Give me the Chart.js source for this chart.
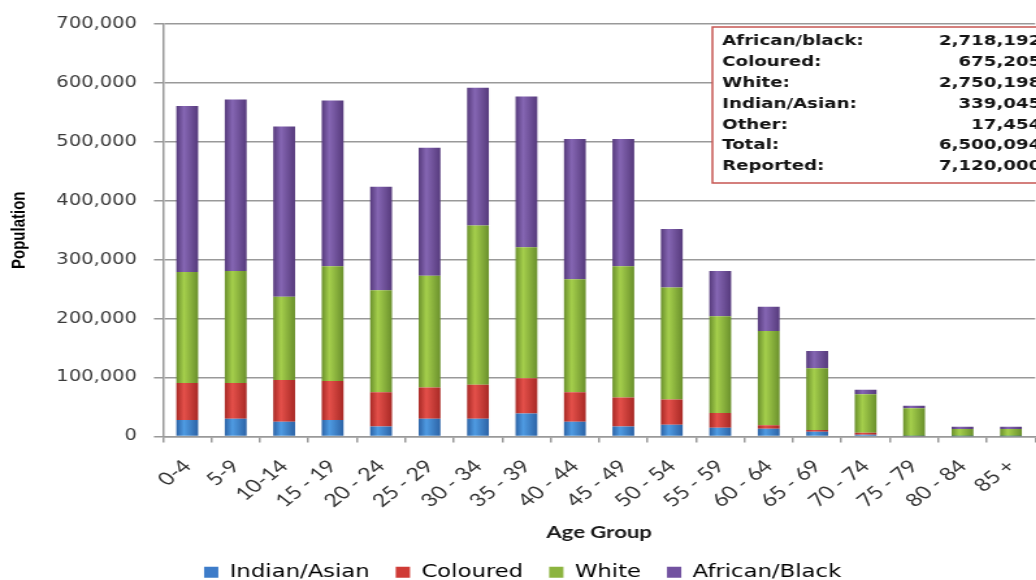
<!DOCTYPE html>
<html>
<head>
<meta charset="utf-8">
<script src="https://cdn.jsdelivr.net/npm/chart.js@4/dist/chart.umd.min.js"></script>
<style>
  html, body { margin: 0; padding: 0; background: #fff; overflow: hidden; }
  /* the source picture is stretched sideways, so the chart is drawn narrow and widened */
  #wrap { width: 806px; height: 580px; transform: scaleX(1.3); transform-origin: 0 0; }
</style>
</head>
<body>
<div id="wrap"><canvas id="popChart" width="806" height="580"></canvas></div>
<script>
const ageGroups = ['0-4', '5-9', '10-14', '15 - 19', '20 - 24', '25 - 29', '30 - 34', '35 - 39', '40 - 44',
  '45 - 49', '50 - 54', '55 - 59', '60 - 64', '65 - 69', '70 - 74', '75 - 79', '80 - 84', '85 +'];

const indianAsian = [28000, 30000, 25000, 28000, 17000, 30000, 30000, 39000, 25000, 17000, 20000, 15000, 13000, 8000, 3000, 500, 300, 300];
const coloured = [63000, 61000, 71000, 66000, 58000, 53000, 58000, 60000, 50000, 49000, 43000, 25000, 6000, 3000, 3500, 500, 300, 300];
const white = [188000, 190000, 141000, 195000, 173000, 190000, 270000, 222000, 192000, 223000, 190000, 164000, 160000, 105000, 65000, 47000, 12000, 12000];
const africanBlack = [282000, 291000, 289000, 281000, 176000, 217000, 234000, 256000, 238000, 216000, 99000, 77000, 41000, 29000, 8000, 4000, 4000, 4000];

const yTicks = [0, 100000, 200000, 300000, 400000, 500000, 600000, 700000];

const summaryLabels = ['African/black:', 'Coloured:', 'White:', 'Indian/Asian:', 'Other:', 'Total:', 'Reported:'];
const summaryValues = [2718192, 675205, 2750198, 339045, 17454, 6500094, 7120000];

const BAR_SHARE = 0.45;

// cylinder-ish shading across each bar
function barFill(base, light, dark) {
  return (c) => {
    const xs = c.chart.scales.x;
    if (!xs || c.dataIndex === undefined) return base;
    const cx = xs.getPixelForValue(c.dataIndex);
    const hw = xs.width / ageGroups.length * BAR_SHARE / 2;
    if (!isFinite(cx) || !isFinite(hw) || hw <= 0) return base;
    const g = c.chart.ctx.createLinearGradient(cx - hw, 0, cx + hw, 0);
    g.addColorStop(0, dark);
    g.addColorStop(0.35, light);
    g.addColorStop(1, dark);
    return g;
  };
}

const legendColors = ['#3d7cc9', '#cf3b36', '#8cb43f', '#7252a0'];

const summaryBox = {
  id: 'summaryBox',
  afterDraw(chart) {
    const ctx = chart.ctx;
    ctx.save();
    ctx.fillStyle = '#ffffff';
    ctx.fillRect(548, 27, 262, 156);
    ctx.strokeStyle = '#c65552';
    ctx.lineWidth = 1.5;
    ctx.strokeRect(548, 27, 262, 156);
    ctx.font = 'bold 14px "DejaVu Sans", Verdana, sans-serif';
    ctx.fillStyle = '#141414';
    ctx.textBaseline = 'middle';
    summaryLabels.forEach((lab, i) => {
      const y = 41.7 + i * 20.8;
      ctx.textAlign = 'left';
      ctx.fillText(lab, 555.5, y);
      ctx.textAlign = 'right';
      ctx.fillText(summaryValues[i].toLocaleString('en-US'), 801, y);
    });
    ctx.restore();
  }
};

const ctx = document.getElementById('popChart').getContext('2d');
new Chart(ctx, {
  type: 'bar',
  data: {
    labels: ageGroups,
    datasets: [
      { label: 'Indian/Asian', data: indianAsian, backgroundColor: barFill('#3d7cc9', '#4f9be2', '#2c63a6') },
      { label: 'Coloured', data: coloured, backgroundColor: barFill('#cf3b36', '#e4504a', '#a82925') },
      { label: 'White', data: white, backgroundColor: barFill('#8cb43f', '#a5cf4c', '#6a902c') },
      { label: 'African/Black', data: africanBlack, backgroundColor: barFill('#7252a0', '#8566b3', '#563a7c') },
    ],
  },
  options: {
    responsive: false,
    animation: false,
    layout: { padding: { top: 24, right: 2, bottom: -11, left: 0 } },
    datasets: { bar: { categoryPercentage: 1, barPercentage: BAR_SHARE } },
    scales: {
      x: {
        stacked: true,
        afterFit: (s) => { s.height = 107; },
        grid: { drawOnChartArea: false, drawTicks: true, tickLength: 6, color: '#999', lineWidth: 1.5 },
        border: { color: '#999', width: 1.5 },
        ticks: {
          autoSkip: false, minRotation: 45, maxRotation: 45, padding: 13,
          color: '#333', font: { family: 'Lato, "Open Sans", sans-serif', size: 18 },
        },
        title: {
          display: true, text: 'Age Group', color: '#1a1a1a',
          font: { family: 'Lato, "Open Sans", sans-serif', size: 17, weight: 'bold' },
          padding: { top: 0, bottom: 1 },
        },
      },
      y: {
        stacked: true,
        min: 0,
        max: 700000,
        afterFit: (s) => { s.width = 125.4; },
        afterBuildTicks: (s) => { s.ticks = yTicks.map(v => ({ value: v })); },
        grid: { color: '#999', lineWidth: 1.5, tickLength: 7 },
        border: { color: '#999', width: 1.5 },
        ticks: {
          padding: 13, color: '#3a3a3a',
          font: { family: '"DejaVu Sans", Verdana, sans-serif', size: 15 },
          callback: (v) => v.toLocaleString('en-US'),
        },
        title: {
          display: true, text: 'Population', color: '#000',
          font: { family: '"Liberation Sans Narrow", "Liberation Sans", Arial, sans-serif', size: 15, weight: 'bold' },
          padding: { top: 6, bottom: 0 },
        },
      },
    },
    plugins: {
      legend: {
        position: 'bottom',
        labels: {
          boxWidth: 11, boxHeight: 11, padding: 20, color: '#1a1a1a',
          font: { family: '"DejaVu Sans", Verdana, sans-serif', size: 17.5 },
          generateLabels: (chart) => chart.data.datasets.map((d, i) => ({
            text: d.label, fillStyle: legendColors[i], strokeStyle: legendColors[i],
            lineWidth: 0, hidden: false, datasetIndex: i,
          })),
        },
      },
      tooltip: { enabled: false },
    },
  },
  plugins: [summaryBox],
});
</script>
</body>
</html>
